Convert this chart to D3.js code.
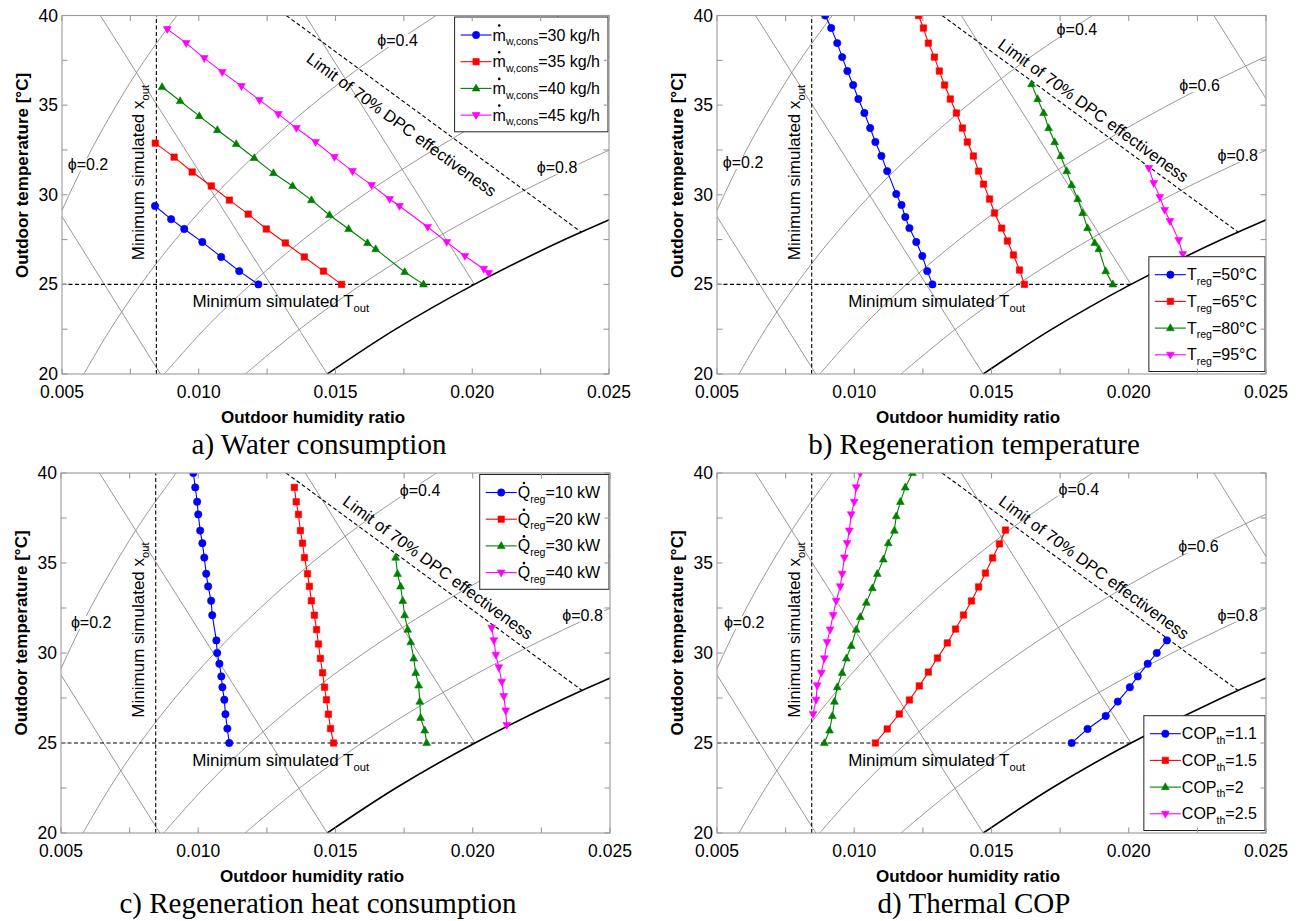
<!DOCTYPE html>
<html>
<head>
<meta charset="utf-8">
<script src="https://cdn.jsdelivr.net/npm/d3@7"></script>
<style>
  body { margin: 0; background: #fff; }
  svg { display: block; font-family: Arial, "Liberation Sans", Helvetica, sans-serif; }
</style>
</head>
<body>
<svg id="fig" width="1300" height="921"></svg>
<script>
// ── Axes ticks ─────────────────────────────────────────────────────────
const xTicks = [0.005, 0.010, 0.015, 0.020, 0.025];
const xMinor = [0.0075, 0.0125, 0.0175, 0.0225];
const yTicks = [20, 25, 30, 35, 40];
const yMinor = [22.5, 27.5, 32.5, 37.5];

// ── Psychrometric background (humidity ratio at gridT) ─────────────────
const gridT = [20, 22.5, 25, 27.5, 30, 32.5, 35, 37.5, 40];
const phi02 = [0.00289, 0.00337, 0.00392, 0.00454, 0.00526, 0.00607, 0.00699, 0.00802, 0.00920];
const phi04 = [0.00580, 0.00677, 0.00788, 0.00915, 0.01060, 0.01226, 0.01413, 0.01625, 0.01868];
const phi06 = [0.00874, 0.01021, 0.01190, 0.01382, 0.01604, 0.01858, 0.02144, 0.02470, 0.02844];
const phi08 = [0.01170, 0.01369, 0.01596, 0.01857, 0.02158, 0.02502, 0.02892, 0.03338, 0.03850];
const phi10 = [0.01470, 0.01720, 0.02008, 0.02338, 0.02721, 0.03159, 0.03650, 0.04200, 0.04860];
// wet-bulb lines: [x, T] end points
const wbLines = [
  [[0.01065, 15], [0.00040, 40]],
  [[0.01470, 20], [0.00640, 40]],
  [[0.02008, 25], [0.01390, 40]],
  [[0.02720, 30], [0.02310, 40]],
];
const dpcLimit = [[0.0132, 40], [0.0240, 27.9]];
const minX = 0.00845;
const minT = 25;
const phiNames = ["0.2", "0.4", "0.6", "0.8"];
// label positions [x, T] per panel (null = hidden behind the legend)
const phiLabA = [[0.00595, 31.7], [0.01727, 38.6], null, [0.02310, 31.5]];
const phiLabB = [[0.00595, 31.8], [0.01811, 39.2], [0.02258, 36.1], [0.02397, 32.2]];
const phiLabC = [[0.00610, 31.7], [0.01808, 39.05], null, [0.02400, 32.1]];
const phiLabD = [[0.00599, 31.7], [0.01818, 39.1], [0.02254, 35.9], [0.02397, 32.1]];

// ── a) Water consumption ───────────────────────────────────────────────
const waterCons = ["30", "35", "40", "45"];
const aX30 = [0.00840, 0.00899, 0.00947, 0.01013, 0.01082, 0.01148, 0.01218];
const aT30 = [29.37, 28.64, 28.09, 27.36, 26.53, 25.74, 25.0];
const aX35 = [0.00841, 0.00910, 0.00976, 0.01046, 0.01112, 0.01181, 0.01247, 0.01317, 0.01386, 0.01456, 0.01522];
const aT35 = [32.88, 32.10, 31.27, 30.49, 29.70, 28.92, 28.09, 27.31, 26.53, 25.74, 25.0];
const aX40 = [0.00866, 0.00932, 0.01002, 0.01068, 0.01137, 0.01203, 0.01273, 0.01343, 0.01412, 0.01478, 0.01548, 0.01617, 0.01647, 0.01753, 0.01822];
const aT40 = [36.01, 35.23, 34.39, 33.61, 32.83, 32.05, 31.21, 30.49, 29.70, 28.87, 28.09, 27.31, 26.97, 25.69, 25.0];
const aX45 = [0.00885, 0.00954, 0.01020, 0.01086, 0.01156, 0.01222, 0.01291, 0.01357, 0.01427, 0.01496, 0.01562, 0.01632, 0.01698, 0.01734, 0.01837, 0.01907, 0.01973, 0.02042, 0.02060];
const aT45 = [39.24, 38.46, 37.62, 36.84, 36.06, 35.28, 34.50, 33.72, 32.94, 32.10, 31.32, 30.54, 29.76, 29.37, 28.20, 27.36, 26.58, 25.86, 25.63];

// ── b) Regeneration temperature ────────────────────────────────────────
const regTemp = ["50", "65", "80", "95"];
const bX50 = [0.00894, 0.00916, 0.00938, 0.00956, 0.00975, 0.00996, 0.01015, 0.01037, 0.01058, 0.01077, 0.01099, 0.01120, 0.01153, 0.01172, 0.01186, 0.01201, 0.01226, 0.01248, 0.01266, 0.01285];
const bT50 = [40.0, 39.30, 38.46, 37.68, 36.90, 36.12, 35.34, 34.56, 33.72, 32.94, 32.16, 31.32, 30.04, 29.43, 28.76, 28.14, 27.36, 26.58, 25.74, 25.0];
const bX65 = [0.01234, 0.01252, 0.01270, 0.01292, 0.01310, 0.01329, 0.01350, 0.01372, 0.01394, 0.01412, 0.01434, 0.01453, 0.01471, 0.01493, 0.01511, 0.01537, 0.01558, 0.01580, 0.01602, 0.01620];
const bT65 = [40.0, 39.30, 38.46, 37.68, 36.90, 36.12, 35.34, 34.56, 33.72, 32.94, 32.16, 31.32, 30.59, 29.76, 28.98, 28.14, 27.42, 26.64, 25.80, 25.0];
const bX80 = [0.01646, 0.01668, 0.01690, 0.01708, 0.01730, 0.01752, 0.01774, 0.01792, 0.01814, 0.01832, 0.01850, 0.01876, 0.01891, 0.01916, 0.01942];
const bT80 = [36.17, 35.34, 34.56, 33.72, 32.94, 32.16, 31.32, 30.54, 29.76, 28.98, 28.14, 27.31, 26.97, 25.74, 25.0];
const bX95 = [0.02073, 0.02091, 0.02113, 0.02131, 0.02150, 0.02182, 0.02197];
const bT95 = [31.49, 30.65, 29.87, 29.15, 28.53, 27.47, 26.69];

// ── c) Regeneration heat consumption ───────────────────────────────────
const regHeat = ["10", "20", "30", "40"];
const cX10 = [0.00982, 0.00989, 0.00996, 0.01000, 0.01007, 0.01015, 0.01022, 0.01029, 0.01036, 0.01047, 0.01051, 0.01066, 0.01069, 0.01077, 0.01084, 0.01088, 0.01095, 0.01099, 0.01106, 0.01113];
const cT10 = [40.0, 39.2, 38.4, 37.7, 36.8, 36.1, 35.3, 34.4, 33.7, 32.9, 32.1, 30.7, 30.0, 29.4, 28.7, 28.1, 27.4, 26.6, 25.8, 25.0];
const cX20 = [0.01350, 0.01357, 0.01365, 0.01372, 0.01380, 0.01387, 0.01398, 0.01405, 0.01412, 0.01423, 0.01431, 0.01438, 0.01445, 0.01453, 0.01460, 0.01467, 0.01474, 0.01482, 0.01493];
const cT20 = [39.2, 38.4, 37.7, 36.8, 36.1, 35.3, 34.4, 33.7, 32.9, 32.1, 31.3, 30.5, 29.7, 28.9, 28.1, 27.4, 26.6, 25.8, 25.0];
const cX30 = [0.01719, 0.01726, 0.01737, 0.01745, 0.01752, 0.01763, 0.01774, 0.01785, 0.01792, 0.01803, 0.01807, 0.01810, 0.01825, 0.01832];
const cT30 = [35.3, 34.4, 33.7, 32.9, 32.1, 31.3, 30.6, 29.7, 28.9, 28.2, 27.3, 26.4, 25.7, 25.0];
const cX40 = [0.02069, 0.02077, 0.02084, 0.02095, 0.02106, 0.02113, 0.02120, 0.02124];
const cT40 = [31.4, 30.7, 29.9, 29.2, 28.4, 27.6, 26.8, 26.0];

// ── d) Thermal COP ─────────────────────────────────────────────────────
const copTh = ["1.1", "1.5", "2", "2.5"];
const dX11 = [0.01792, 0.01850, 0.01916, 0.01960, 0.02004, 0.02033, 0.02069, 0.02102, 0.02139];
const dT11 = [25.0, 25.78, 26.5, 27.3, 28.1, 28.7, 29.4, 30.0, 30.7];
const dX15 = [0.01077, 0.01120, 0.01164, 0.01201, 0.01237, 0.01270, 0.01303, 0.01339, 0.01369, 0.01398, 0.01427, 0.01453, 0.01478, 0.01504, 0.01529, 0.01551];
const dT15 = [25.0, 25.78, 26.61, 27.39, 28.17, 28.94, 29.72, 30.56, 31.33, 32.11, 32.89, 33.67, 34.44, 35.28, 36.06, 36.83];
const dX20 = [0.00891, 0.00910, 0.00920, 0.00928, 0.00938, 0.00956, 0.00971, 0.00989, 0.01007, 0.01022, 0.01044, 0.01066, 0.01084, 0.01106, 0.01124, 0.01146, 0.01153, 0.01168, 0.01186, 0.01212];
const dT20 = [25.0, 25.7, 26.5, 27.3, 28.1, 28.9, 29.7, 30.4, 31.3, 32.0, 32.8, 33.6, 34.4, 35.2, 36.1, 36.8, 37.6, 38.4, 39.2, 40.0];
const dX25 = [0.00850, 0.00861, 0.00865, 0.00880, 0.00891, 0.00901, 0.00912, 0.00923, 0.00934, 0.00949, 0.00956, 0.00964, 0.00974, 0.00982, 0.00989, 0.01000, 0.01007, 0.01022];
const dT25 = [26.6, 27.4, 28.2, 28.9, 29.7, 30.6, 31.3, 32.1, 32.9, 33.7, 34.4, 35.3, 36.1, 36.8, 37.7, 38.4, 39.2, 40.0];

// ── Style ──────────────────────────────────────────────────────────────
const COLORS = ["#0000ff", "#ff0000", "#008000", "#ff00ff"];
const SHAPES = [
  "M3.7,0A3.7,3.7 0 1,1 -3.7,0A3.7,3.7 0 1,1 3.7,0Z",
  "M-3.2,-3.2H3.2V3.2H-3.2Z",
  "M0,-4.3L3.9,2.6L-3.9,2.6Z",
  "M0,4.3L3.9,-2.6L-3.9,-2.6Z",
];
const GRID = "#8c8c8c";
const FRAME = "#9a9a9a";

const PANELS = [
  { left: 62,  right: 609,  top: 15.5, bottom: 374, leg: "ne", limFrac: 0.43,  limOff: 19.5,
    phiLab: phiLabA, caption: "a) Water consumption",
    series: [[aX30, aT30], [aX35, aT35], [aX40, aT40], [aX45, aT45]],
    names: waterCons.map(v => [{ t: "m", dot: true }, { t: "w,cons", sub: true }, { t: `=${v} kg/h` }]) },
  { left: 717, right: 1266, top: 15.5, bottom: 374, leg: "se", limFrac: 0.485, limOff: -13,
    phiLab: phiLabB, caption: "b) Regeneration temperature",
    series: [[bX50, bT50], [bX65, bT65], [bX80, bT80], [bX95, bT95]],
    names: regTemp.map(v => [{ t: "T" }, { t: "reg", sub: true }, { t: `=${v}°C` }]) },
  { left: 61,  right: 610,  top: 473, bottom: 833, leg: "ne", limFrac: 0.485, limOff: -14,
    phiLab: phiLabC, caption: "c) Regeneration heat consumption",
    series: [[cX10, cT10], [cX20, cT20], [cX30, cT30], [cX40, cT40]],
    names: regHeat.map(v => [{ t: "Q", dot: true }, { t: "reg", sub: true }, { t: `=${v} kW` }]) },
  { left: 717, right: 1266, top: 473, bottom: 833, leg: "se", limFrac: 0.485, limOff: -14,
    phiLab: phiLabD, caption: "d) Thermal COP",
    series: [[dX11, dT11], [dX15, dT15], [dX20, dT20], [dX25, dT25]],
    names: copTh.map(v => [{ t: "COP" }, { t: "th", sub: true }, { t: `=${v}` }]) },
];

const svg = d3.select("#fig");
const defs = svg.append("defs");

// text with subscripts, returns the <text>
function richText(parent, parts, size) {
  const t = parent.append("text").attr("font-size", size).attr("fill", "#000");
  let low = false;
  parts.forEach(pt => {
    const s = t.append("tspan").text(pt.t);
    if (pt.sub) { s.attr("font-size", size * 0.66).attr("dy", size * 0.3); low = true; }
    else if (low) { s.attr("dy", -size * 0.3); low = false; }
  });
  return t;
}

function drawPanel(p, pi) {
  const x = d3.scaleLinear().domain([0.005, 0.025]).range([p.left, p.right]);
  const y = d3.scaleLinear().domain([20, 40]).range([p.bottom, p.top]);
  const g = svg.append("g");

  defs.append("clipPath").attr("id", "clip" + pi).append("rect")
    .attr("x", p.left).attr("y", p.top)
    .attr("width", p.right - p.left).attr("height", p.bottom - p.top);
  const inner = g.append("g").attr("clip-path", `url(#clip${pi})`);

  // ── psychrometric grid ──
  const curve = d3.line().x(d => x(d[0])).y(d => y(d[1])).curve(d3.curveCatmullRom);
  [phi02, phi04, phi06, phi08].forEach(arr => {
    inner.append("path").datum(arr.map((v, i) => [v, gridT[i]])).attr("d", curve)
      .attr("fill", "none").attr("stroke", GRID).attr("stroke-width", 0.9);
  });
  wbLines.forEach(l => {
    inner.append("path").datum(l).attr("d", d3.line().x(d => x(d[0])).y(d => y(d[1])))
      .attr("fill", "none").attr("stroke", GRID).attr("stroke-width", 0.9);
  });
  inner.append("path").datum(phi10.map((v, i) => [v, gridT[i]])).attr("d", curve)
    .attr("fill", "none").attr("stroke", "#000").attr("stroke-width", 1.6);

  // ── phi labels ──
  p.phiLab.forEach((pos, i) => {
    if (!pos) return;
    const lg = inner.append("g");
    const t = lg.append("text").attr("x", x(pos[0])).attr("y", y(pos[1]))
      .attr("text-anchor", "middle").attr("dominant-baseline", "central")
      .attr("font-size", 16).text("ϕ=" + phiNames[i]);
    const bb = t.node().getBBox();
    lg.insert("rect", "text").attr("x", bb.x - 1).attr("y", bb.y + 2)
      .attr("width", bb.width + 2).attr("height", bb.height - 4).attr("fill", "#fff");
  });

  // ── dashed limits ──
  const dash = { stroke: "#000", "stroke-width": 1.1, "stroke-dasharray": "4,2.5", fill: "none" };
  const vline = inner.append("line").attr("x1", x(minX)).attr("x2", x(minX)).attr("y1", y(20)).attr("y2", y(40));
  const hline = inner.append("line").attr("x1", x(0.005)).attr("x2", x(phi10[2])).attr("y1", y(minT)).attr("y2", y(minT));
  const lim = inner.append("line").attr("x1", x(dpcLimit[0][0])).attr("y1", y(dpcLimit[0][1]))
    .attr("x2", x(dpcLimit[1][0])).attr("y2", y(dpcLimit[1][1]));
  [vline, hline, lim].forEach(s => Object.entries(dash).forEach(([k, v]) => s.attr(k, v)));

  // ── annotations ──
  const ax = x(minX) - 12, ay = p.top + 157;
  richText(g, [{ t: "Minimum simulated x" }, { t: "out", sub: true }], 17)
    .attr("text-anchor", "middle").attr("transform", `translate(${ax},${ay}) rotate(-90)`);
  richText(g, [{ t: "Minimum simulated T" }, { t: "out", sub: true }], 17)
    .attr("text-anchor", "middle").attr("x", x(0.0130)).attr("y", y(minT) + 23);

  const p0 = [x(dpcLimit[0][0]), y(dpcLimit[0][1])], p1 = [x(dpcLimit[1][0]), y(dpcLimit[1][1])];
  const ang = Math.atan2(p1[1] - p0[1], p1[0] - p0[0]);
  const nx = -Math.sin(ang), ny = Math.cos(ang);
  const cx = p0[0] + (p1[0] - p0[0]) * p.limFrac + nx * p.limOff;
  const cy = p0[1] + (p1[1] - p0[1]) * p.limFrac + ny * p.limOff;
  g.append("text").attr("font-size", 16.5).attr("text-anchor", "middle").attr("dominant-baseline", "central")
    .attr("transform", `translate(${cx},${cy}) rotate(${ang * 180 / Math.PI})`)
    .text("Limit of 70% DPC effectiveness");

  // ── series ──
  const line = d3.line().x(d => x(d[0])).y(d => y(d[1]));
  p.series.forEach(([xs, ts], si) => {
    const pts = xs.map((v, i) => [v, ts[i]]);
    inner.append("path").datum(pts).attr("d", line)
      .attr("fill", "none").attr("stroke", COLORS[si]).attr("stroke-width", 1.1);
    inner.selectAll(null).data(pts).join("path")
      .attr("transform", d => `translate(${x(d[0])},${y(d[1])})`)
      .attr("d", SHAPES[si]).attr("fill", COLORS[si]).attr("stroke", COLORS[si]).attr("stroke-width", 0.6);
  });

  // ── legend ──
  const lg = g.append("g");
  const box = lg.append("rect").attr("fill", "#fff").attr("stroke", "#222").attr("stroke-width", 1);
  const rowH = 26.7;
  let maxW = 0;
  const rows = p.names.map((parts, i) => {
    const r = lg.append("g");
    r.append("line").attr("x1", 6).attr("x2", 37).attr("y1", 0).attr("y2", 0)
      .attr("stroke", COLORS[i]).attr("stroke-width", 1.1);
    r.append("path").attr("d", SHAPES[i]).attr("transform", "translate(21.5,0)")
      .attr("fill", COLORS[i]).attr("stroke", COLORS[i]).attr("stroke-width", 0.6);
    const t = richText(r, parts, 16).attr("x", 38).attr("y", 5.5);
    if (parts[0].dot) {
      const w = t.node().getSubStringLength(0, 1);
      r.append("circle").attr("cx", 38 + w / 2).attr("cy", 5.5 - 15).attr("r", 1.3).attr("fill", "#000");
    }
    maxW = Math.max(maxW, t.node().getBBox().width);
    return r;
  });
  const bw = 38 + maxW + 8, bh = rowH * 4 + 8;
  const bx = p.right - 1 - bw;
  const by = p.leg === "ne" ? p.top + 1.5 : p.bottom - 2.5 - bh;
  box.attr("x", bx).attr("y", by).attr("width", bw).attr("height", bh);
  rows.forEach((r, i) => r.attr("transform", `translate(${bx},${by + 18 + i * rowH})`));

  // ── frame + ticks ──
  const fr = g.append("g").attr("stroke", FRAME).attr("stroke-width", 1.1).attr("fill", "none");
  fr.append("rect").attr("x", p.left).attr("y", p.top).attr("width", p.right - p.left).attr("height", p.bottom - p.top);
  const tl = 5.5;
  xTicks.concat(xMinor).forEach(v => {
    fr.append("line").attr("x1", x(v)).attr("x2", x(v)).attr("y1", p.bottom).attr("y2", p.bottom - tl);
    fr.append("line").attr("x1", x(v)).attr("x2", x(v)).attr("y1", p.top).attr("y2", p.top + tl);
  });
  yTicks.concat(yMinor).forEach(v => {
    fr.append("line").attr("y1", y(v)).attr("y2", y(v)).attr("x1", p.left).attr("x2", p.left + tl);
    fr.append("line").attr("y1", y(v)).attr("y2", y(v)).attr("x1", p.right).attr("x2", p.right - tl);
  });

  // ── tick labels ──
  const fmt = d3.format(".3f");
  g.selectAll(null).data(xTicks).join("text")
    .attr("x", d => x(d)).attr("y", p.bottom + 24).attr("text-anchor", "middle")
    .attr("font-size", 17.5).text(fmt);
  g.selectAll(null).data(yTicks).join("text")
    .attr("x", p.left - 4).attr("y", d => y(d)).attr("text-anchor", "end")
    .attr("dominant-baseline", "central").attr("font-size", 17.5).text(d => d);

  // ── axis labels + caption ──
  g.append("text").attr("x", p.left + 251).attr("y", p.bottom + 49).attr("text-anchor", "middle")
    .attr("font-size", 17).attr("font-weight", "bold").text("Outdoor humidity ratio");
  g.append("text").attr("transform", `translate(${p.left - 34},${p.top + 160}) rotate(-90)`)
    .attr("text-anchor", "middle").attr("font-size", 17).attr("font-weight", "bold")
    .text("Outdoor temperature [°C]");
  g.append("text").attr("x", p.left + 257).attr("y", p.bottom + 80).attr("text-anchor", "middle")
    .attr("font-family", "'Times New Roman', 'Liberation Serif', serif").attr("font-size", 29)
    .text(p.caption);
}

PANELS.forEach(drawPanel);
</script>
</body>
</html>
